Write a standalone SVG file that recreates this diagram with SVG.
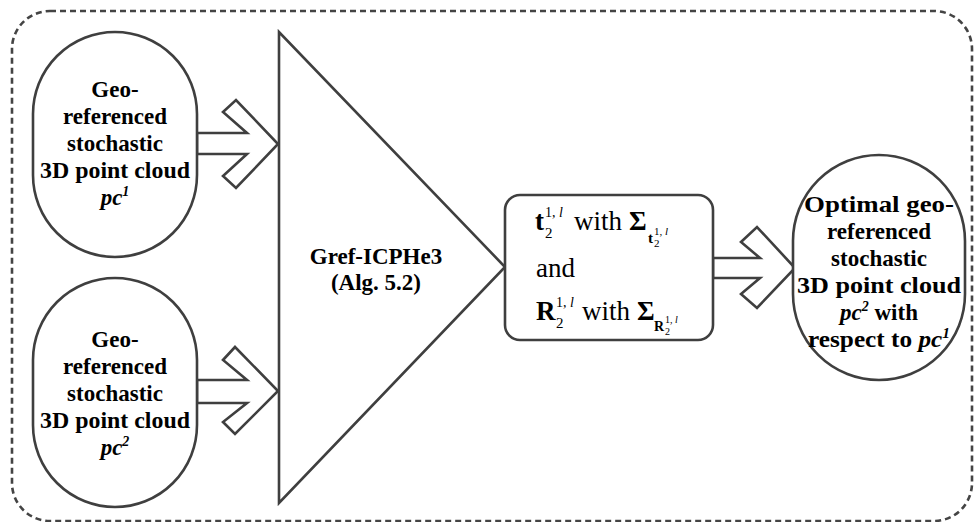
<svg xmlns="http://www.w3.org/2000/svg" width="974" height="522" viewBox="0 0 974 522">
<style>
.shape{fill:#fff;stroke:#3f3f3f;stroke-width:2.6}
.frame{fill:none;stroke:#444;stroke-width:2.6;stroke-dasharray:6 4}
.arrow{fill:#fff;stroke:#3f3f3f;stroke-width:2.6;stroke-linejoin:miter}
text{font-family:'Liberation Serif',serif}
.lbl{font-weight:bold;font-size:23px;fill:#000;text-anchor:middle}
.it{font-style:italic}
.m{fill:#000}
.b{font-weight:bold}
.s27{font-size:27px}
.s15{font-size:15px}
.s14{font-size:14px}
.s11{font-size:11px}
.s10{font-size:10px}
</style>
<rect class="frame" x="12" y="11" width="960" height="510" rx="38" ry="38"/>
<g id="connectors">
<polygon class="arrow" points="197,133 247,133 223,112 236,100 278,144 236,188 223,176 247,154 197,154"/>
<polygon class="arrow" points="197,380 247,380 223,360 235,347 278,391 235,434 223,422 247,403 197,403"/>
<polygon class="arrow" points="713,258 760,258 741,242 757,227 795,268 757,308 741,294 760,278 713,278"/>
</g>
<g id="pc1">
<rect class="shape" x="33" y="32" width="164" height="225" rx="82" ry="82"/>
<text class="lbl" x="115" y="97">Geo-</text>
<text class="lbl" x="115" y="124">referenced</text>
<text class="lbl" x="115" y="151">stochastic</text>
<text class="lbl" x="115" y="178" textLength="150" lengthAdjust="spacingAndGlyphs">3D point cloud</text>
<text class="lbl it" x="115" y="205">pc<tspan class="s14" dy="-9">1</tspan></text>
</g>
<g id="pc2">
<rect class="shape" x="33" y="278" width="164" height="229" rx="82" ry="82"/>
<text class="lbl" x="115" y="347">Geo-</text>
<text class="lbl" x="115" y="374">referenced</text>
<text class="lbl" x="115" y="401">stochastic</text>
<text class="lbl" x="115" y="428" textLength="150" lengthAdjust="spacingAndGlyphs">3D point cloud</text>
<text class="lbl it" x="115" y="455">pc<tspan class="s14" dy="-9">2</tspan></text>
</g>
<g id="gref">
<polygon class="shape" points="279,32 279,503 505,267"/>
<text class="lbl" x="376" y="264">Gref-ICPHe3</text>
<text class="lbl" x="376" y="290">(Alg. 5.2)</text>
</g>
<g id="result">
<rect class="shape" x="505" y="195" width="208" height="145" rx="15" ry="15"/>
<text class="m b s27" x="535" y="230">t</text>
<text class="m s14" x="545" y="217">1, <tspan class="it">l</tspan></text>
<text class="m s15" x="545" y="238">2</text>
<text class="m s27" x="574" y="230">with</text>
<text class="m b s27" x="629" y="230">Σ</text>
<text class="m b s15" x="648" y="243">t</text>
<text class="m s11" x="654" y="235">1, <tspan class="it">l</tspan></text>
<text class="m s11" x="654" y="247">2</text>
<text class="m s27" x="536" y="277">and</text>
<text class="m b s27" x="536" y="320">R</text>
<text class="m s14" x="556" y="307">1, <tspan class="it">l</tspan></text>
<text class="m s15" x="556" y="328">2</text>
<text class="m s27" x="582" y="320">with</text>
<text class="m b s27" x="637" y="320">Σ</text>
<text class="m b s14" x="654" y="331">R</text>
<text class="m s10" x="665" y="323">1, <tspan class="it">l</tspan></text>
<text class="m s10" x="665" y="335">2</text>
</g>
<g id="optimal">
<rect class="shape" x="793" y="155" width="172" height="225" rx="86" ry="86"/>
<text class="lbl" x="879" y="212" textLength="150" lengthAdjust="spacingAndGlyphs">Optimal geo-</text>
<text class="lbl" x="879" y="239">referenced</text>
<text class="lbl" x="879" y="266">stochastic</text>
<text class="lbl" x="879" y="293" textLength="164" lengthAdjust="spacingAndGlyphs">3D point cloud</text>
<text class="lbl" x="879" y="320"><tspan class="it">pc<tspan class="s14" dy="-9">2</tspan></tspan><tspan dy="9"> with</tspan></text>
<text class="lbl" x="879" y="347" textLength="142" lengthAdjust="spacingAndGlyphs">respect to <tspan class="it">pc<tspan class="s14" dy="-9">1</tspan></tspan></text>
</g>
</svg>
